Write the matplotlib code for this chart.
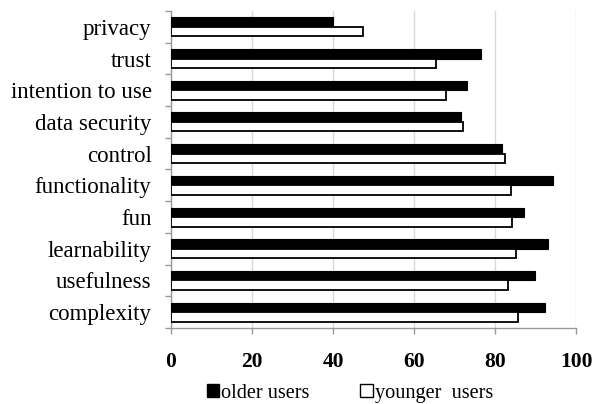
import matplotlib
matplotlib.use("Agg")
import matplotlib.pyplot as plt
from matplotlib.patches import Patch
import numpy as np

categories = ["complexity", "usefulness", "learnability", "fun", "functionality",
              "control", "data security", "intention to use", "trust", "privacy"]
older_users = [92.4, 89.8, 93.0, 87.2, 94.2, 81.8, 71.5, 73.2, 76.5, 40.0]
younger_users = [85.7, 83.1, 85.1, 84.2, 84.0, 82.5, 72.2, 67.8, 65.5, 47.5]
x_ticks = [0, 20, 40, 60, 80, 100]

plt.rcParams['font.family'] = ['Liberation Serif', 'DejaVu Serif']

fig = plt.figure(figsize=(5.95, 4.04), dpi=100)
ax = fig.add_axes([0.2874, 0.1881, 0.6807, 0.7847])

y = np.arange(len(categories))
h = 0.3
ax.barh(y + h / 2, older_users, height=h, color="black", edgecolor="black",
        linewidth=0.8, zorder=3)
ax.barh(y - h / 2, younger_users, height=h, color="white", edgecolor="black",
        linewidth=1.3, zorder=3)

ax.set_xlim(0, 100)
ax.set_ylim(-0.5, len(categories) - 0.5)
ax.set_xticks(x_ticks)
ax.set_xticklabels([str(v) for v in x_ticks], fontsize=15.5, fontweight="bold")
ax.set_yticks(y)
ax.set_yticklabels(categories, fontsize=16.5)
ax.set_yticks(np.arange(len(categories) + 1) - 0.5, minor=True)
ax.tick_params(axis="y", which="major", length=0, pad=14)
ax.tick_params(axis="y", which="minor", length=4, color="#999999", width=1)
ax.tick_params(axis="x", length=4, color="#999999", width=1, pad=13.5)

ax.grid(axis="x", color="#d9d9d9", linewidth=1, zorder=0)
for s in ["top", "right"]:
    ax.spines[s].set_visible(False)
for s in ["left", "bottom"]:
    ax.spines[s].set_color("#999999")
    ax.spines[s].set_linewidth(1)

handles = [Patch(facecolor="black", edgecolor="black", label="older users"),
           Patch(facecolor="white", edgecolor="black", label="younger  users")]
fig.legend(handles=handles, loc="center", bbox_to_anchor=(0.588, 0.027), ncol=2,
           frameon=False, fontsize=14.6, handlelength=0.62, handleheight=0.62,
           handletextpad=0.1, columnspacing=2.5, borderpad=0, borderaxespad=0)

fig.savefig("out.png", dpi=100)
